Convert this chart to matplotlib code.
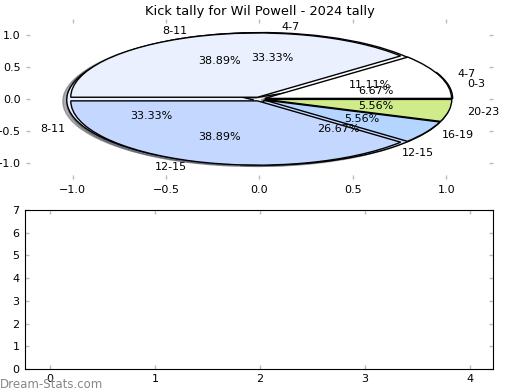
import matplotlib
matplotlib.use("Agg")
import matplotlib.pyplot as plt

# kick tally data (two tallies drawn on the same pie axes)
labels_a = ['8-11', '4-7', '20-23', '16-19', '12-15']
values_a = [7, 2, 1, 1, 7]
labels_b = ['4-7', '0-3', '12-15', '8-11']
values_b = [5, 1, 4, 5]

colours = {
    '0-3': '#ffffff',
    '4-7': '#ffffff',
    '8-11': '#eaf0fe',
    '12-15': '#c4d8ff',
    '16-19': '#b3d5ff',
    '20-23': '#d0eb8a',
}

bottom_xticks = [0, 1, 2, 3, 4]
bottom_yticks = [0, 1, 2, 3, 4, 5, 6, 7]

plt.rcParams['font.size'] = 8
plt.rcParams['font.family'] = 'DejaVu Sans'

fig = plt.figure(figsize=(5.2, 3.9), dpi=100)
ax1 = fig.add_axes([0.05, 0.54, 0.898, 0.412])
ax2 = fig.add_axes([0.048, 0.054, 0.9, 0.4075])

wp = dict(edgecolor='black', linewidth=1)
shad = dict(ox=-0.015, oy=-0.015, shade=0.6)
ax1.pie(values_b, labels=labels_b, colors=[colours[l] for l in labels_b],
        autopct='%.2f%%', startangle=144, counterclock=False,
        explode=[0.035] * len(values_b), shadow=shad, wedgeprops=wp, frame=True)
ax1.pie(values_a, labels=labels_a, colors=[colours[l] for l in labels_a],
        autopct='%.2f%%', startangle=180, counterclock=False,
        explode=[0.03] * len(values_a), shadow=shad, wedgeprops=wp, frame=True)

ax1.set_aspect('auto')
ax1.set_xlim(-1.25, 1.25)
ax1.set_ylim(-1.25, 1.25)
ax1.set_xticks([-1.0, -0.5, 0.0, 0.5, 1.0])
ax1.set_yticks([-1.0, -0.5, 0.0, 0.5, 1.0])
for s in ax1.spines.values():
    s.set_visible(False)
ax1.set_title('Kick tally for Wil Powell - 2024 tally', fontsize=9.4, pad=3)

ax2.set_xlim(-0.24, 4.22)
ax2.set_ylim(0, 7)
ax2.set_xticks(bottom_xticks)
ax2.set_yticks(bottom_yticks)

for ax in (ax1, ax2):
    ax.tick_params(direction='in', length=3, width=1, color='#bbbbbb',
                   top=True, right=True, labelsize=8, pad=4)

fig.text(0.0, 0.006, 'Dream-Stats.com', color='#888888', fontsize=8.5)

fig.savefig('out.png', dpi=100)
